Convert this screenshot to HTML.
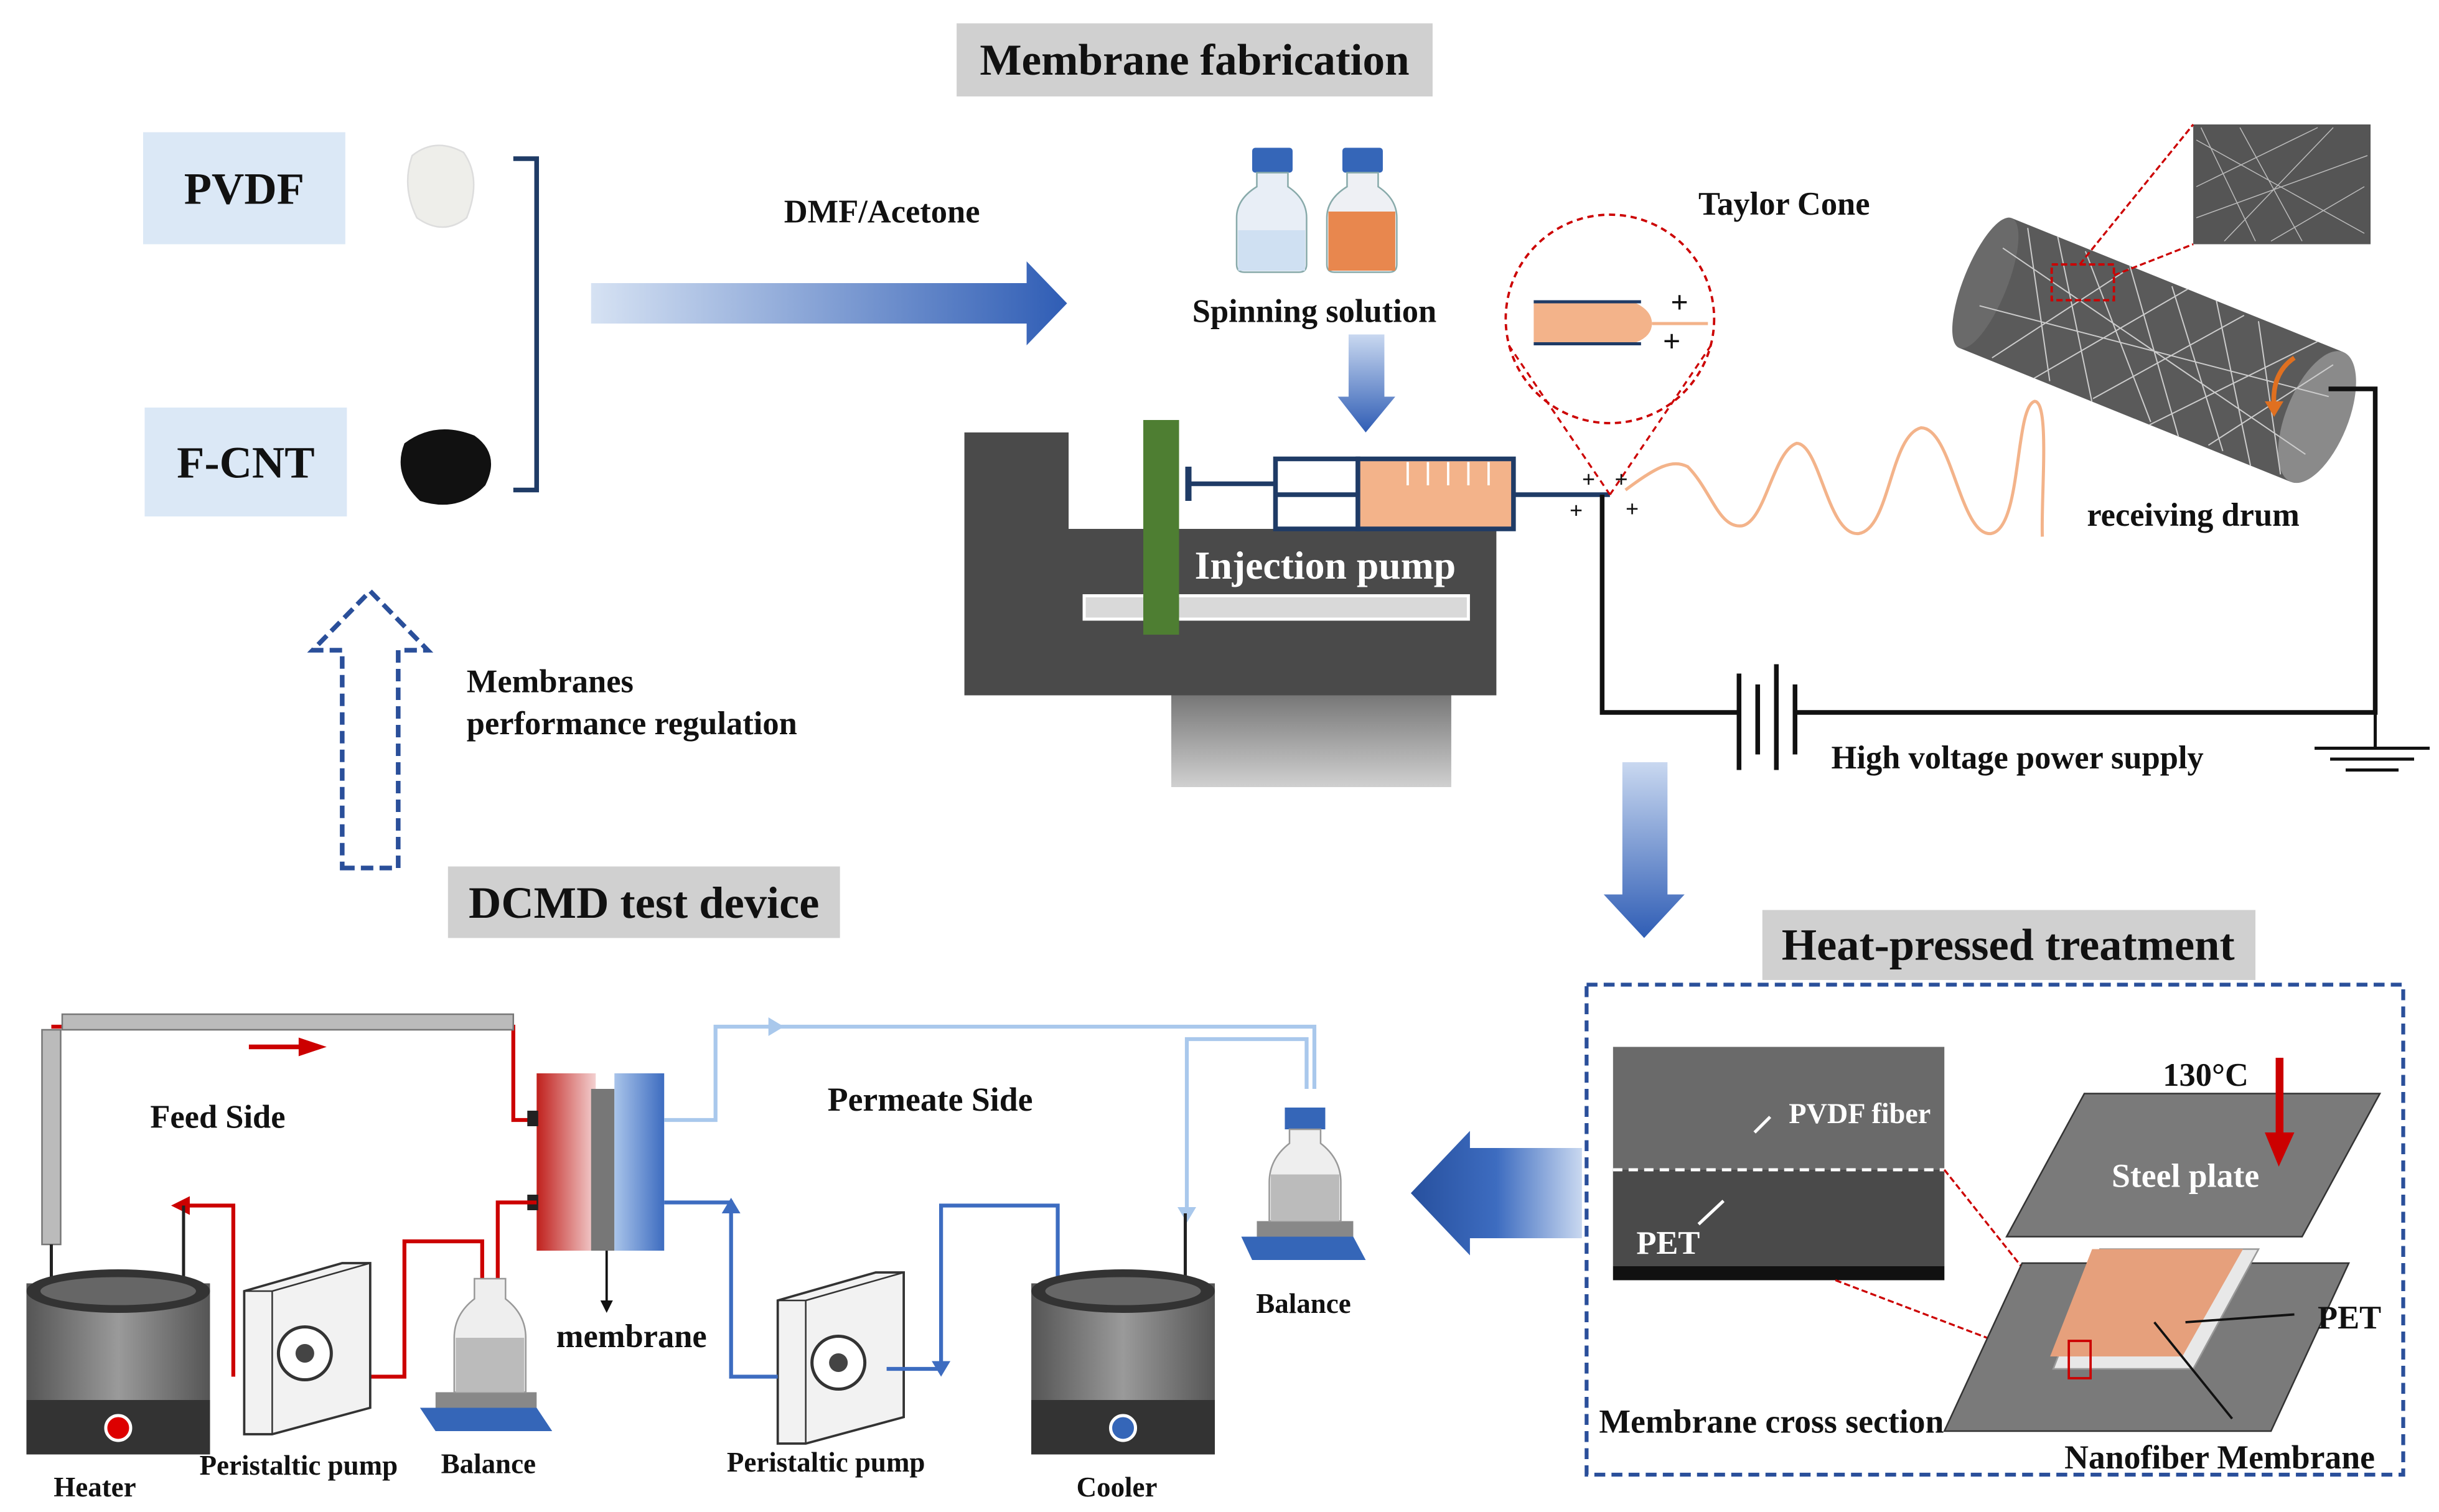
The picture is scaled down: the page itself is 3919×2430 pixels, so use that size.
<!DOCTYPE html>
<html><head><meta charset="utf-8"><style>
html,body{margin:0;padding:0;background:#fff;width:3919px;height:2430px;overflow:hidden}
svg{display:block}
text{font-family:"Liberation Serif",serif;font-weight:bold;fill:#111}
</style></head><body>
<svg width="3919" height="2430" viewBox="0 0 1568 972" preserveAspectRatio="none" xmlns="http://www.w3.org/2000/svg">
<defs>
<linearGradient id="ga" x1="0" x2="1"><stop offset="0" stop-color="#d6e2f3"/><stop offset="1" stop-color="#2f5db5"/></linearGradient>
<linearGradient id="gd" x1="0" x2="0" y1="0" y2="1"><stop offset="0" stop-color="#c9d8f0"/><stop offset="1" stop-color="#2f5db5"/></linearGradient>
<linearGradient id="gl" x1="1" x2="0"><stop offset="0" stop-color="#c9d8f0"/><stop offset="0.5" stop-color="#3d6cc0"/><stop offset="1" stop-color="#27509e"/></linearGradient>
<linearGradient id="gr" x1="0" x2="1"><stop offset="0" stop-color="#c0201c"/><stop offset="1" stop-color="#f3d0d0"/></linearGradient>
<linearGradient id="gb" x1="0" x2="1"><stop offset="0" stop-color="#a9c4ea"/><stop offset="1" stop-color="#3d6cc0"/></linearGradient>
<linearGradient id="gbase" x1="0" x2="0" y1="0" y2="1"><stop offset="0" stop-color="#777"/><stop offset="1" stop-color="#d0d0d0"/></linearGradient>
<linearGradient id="gpot" x1="0" x2="1"><stop offset="0" stop-color="#555"/><stop offset="0.5" stop-color="#9a9a9a"/><stop offset="1" stop-color="#555"/></linearGradient>
</defs>
<rect x="615" y="15" width="306" height="47" fill="#d0d0d0"/>
<text x="768" y="48" font-size="28.5" text-anchor="middle">Membrane fabrication</text>
<rect x="288" y="557" width="252" height="46" fill="#d0d0d0"/>
<text x="414" y="590" font-size="29" text-anchor="middle">DCMD test device</text>
<rect x="1133" y="585" width="317" height="45" fill="#d0d0d0"/>
<text x="1291" y="617" font-size="29" text-anchor="middle">Heat-pressed treatment</text>
<rect x="92" y="85" width="130" height="72" fill="#dbe8f6"/>
<text x="157" y="131" font-size="29" text-anchor="middle">PVDF</text>
<rect x="93" y="262" width="130" height="70" fill="#dbe8f6"/>
<text x="158" y="307" font-size="29" text-anchor="middle">F-CNT</text>
<path d="M265 100 Q280 88 298 98 Q310 115 300 140 Q285 152 268 140 Q258 120 265 100Z" fill="#eeeeea" stroke="#ddd"/>
<path d="M260 285 Q280 270 305 280 Q322 292 312 312 Q295 330 270 322 Q252 305 260 285Z" fill="#111"/>
<path d="M330 102 H345 V315 H330" fill="none" stroke="#1f3b66" stroke-width="3"/>
<polygon points="380,182 660,182 660,168 686,195 660,222 660,208 380,208" fill="url(#ga)"/>
<text x="567" y="143" font-size="21" text-anchor="middle">DMF/Acetone</text>
<rect x="805" y="95" width="26" height="16" fill="#3566b8" rx="2"/>
<path d="M808 111 H828 V120 Q840 128 840 140 V170 Q840 175 835 175 H800 Q795 175 795 170 V140 Q795 128 808 120Z" fill="#e8eef6" stroke="#8aa" />
<rect x="796" y="148" width="43" height="26" fill="#cfe0f2"/>
<rect x="863" y="95" width="26" height="16" fill="#3566b8" rx="2"/>
<path d="M866 111 H886 V120 Q898 128 898 140 V170 Q898 175 893 175 H858 Q853 175 853 170 V140 Q853 128 866 120Z" fill="#eef0f4" stroke="#8aa"/>
<rect x="854" y="136" width="43" height="38" fill="#e8874e"/>
<text x="845" y="207" font-size="21" text-anchor="middle">Spinning solution</text>
<polygon points="867,215 890,215 890,255 897,255 878,278 860,255 867,255" fill="url(#gd)"/>
<path d="M620 278 H687 V340 H962 V447 H620Z" fill="#4a4a4a"/>
<rect x="753" y="447" width="180" height="59" fill="url(#gbase)"/>
<rect x="697" y="383" width="247" height="15" fill="#d9d9d9" stroke="#fff" stroke-width="2"/>
<rect x="735" y="270" width="23" height="138" fill="#4e7e32"/>
<line x1="764" y1="300" x2="764" y2="322" stroke="#1f3b66" stroke-width="4"/>
<line x1="764" y1="311" x2="820" y2="311" stroke="#1f3b66" stroke-width="3"/>
<rect x="820" y="295" width="53" height="45" fill="#fff" stroke="#1f3b66" stroke-width="3"/>
<line x1="820" y1="318" x2="873" y2="318" stroke="#1f3b66" stroke-width="3"/>
<rect x="873" y="295" width="100" height="45" fill="#f3b38a" stroke="#1f3b66" stroke-width="3"/>
<g stroke="#fff" stroke-width="1.5"><line x1="905" y1="297" x2="905" y2="312"/><line x1="918" y1="297" x2="918" y2="312"/><line x1="931" y1="297" x2="931" y2="312"/><line x1="944" y1="297" x2="944" y2="312"/><line x1="957" y1="297" x2="957" y2="312"/></g>
<line x1="973" y1="318" x2="1035" y2="318" stroke="#1f3b66" stroke-width="3"/>
<text x="852" y="372" font-size="25.5" text-anchor="middle" style="fill:#fff">Injection pump</text>
<circle cx="1035" cy="205" r="67" fill="none" stroke="#c00" stroke-width="1.5" stroke-dasharray="4,3"/>
<line x1="970" y1="222" x2="1035" y2="318" stroke="#c00" stroke-width="1.3" stroke-dasharray="4,3"/>
<line x1="1100" y1="222" x2="1035" y2="318" stroke="#c00" stroke-width="1.3" stroke-dasharray="4,3"/>
<path d="M986 195 H1052 Q1062 200 1062 208 Q1062 216 1052 220 H986Z" fill="#f3b38a"/>
<line x1="986" y1="194" x2="1055" y2="194" stroke="#1f3b66" stroke-width="2"/>
<line x1="986" y1="221" x2="1055" y2="221" stroke="#1f3b66" stroke-width="2"/>
<line x1="1062" y1="208" x2="1098" y2="208" stroke="#f3b38a" stroke-width="2"/>
<text x="1074" y="201" font-size="20">+</text><text x="1069" y="226" font-size="20">+</text>
<text x="1147" y="138" font-size="21" text-anchor="middle">Taylor Cone</text>
<text x="1017" y="313" font-size="15">+</text><text x="1038" y="313" font-size="15">+</text>
<text x="1009" y="333" font-size="15">+</text><text x="1045" y="332" font-size="15">+</text>
<path d="M1045 315 C1065 300 1075 295 1085 300 C1100 315 1105 340 1120 338 C1135 335 1140 290 1155 285 C1170 285 1175 345 1195 343 C1215 340 1215 280 1235 275 C1255 275 1260 345 1280 343 C1300 340 1295 262 1308 258 C1318 258 1312 320 1313 345" fill="none" stroke="#f3b38a" stroke-width="2"/>
<g transform="rotate(22 1383 225)">
<rect x="1268" y="180" width="230" height="90" fill="#5a5a5a"/>
<ellipse cx="1268" cy="225" rx="14" ry="45" fill="#6a6a6a"/>
<ellipse cx="1498" cy="225" rx="20" ry="45" fill="#8a8a8a"/>
<g stroke="#ccc" stroke-width="0.8" fill="none">
<path d="M1280 182 L1330 268 M1300 180 L1360 270 M1320 182 L1400 268 M1350 180 L1420 270 M1380 182 L1450 268 M1410 180 L1470 270 M1440 182 L1490 268 M1290 268 L1350 182 M1320 270 L1390 180 M1360 268 L1430 182 M1400 270 L1480 180 M1440 268 L1495 190 M1270 200 L1500 250 M1270 240 L1500 210"/>
</g>
</g>
<path d="M1475 230 Q1460 240 1462 262" fill="none" stroke="#e07020" stroke-width="3"/>
<polygon points="1456,258 1468,258 1462,268" fill="#e07020"/>
<rect x="1410" y="80" width="114" height="77" fill="#555"/>
<g stroke="#bbb" stroke-width="0.6"><path d="M1412 90 L1520 150 M1412 120 L1490 82 M1430 155 L1500 82 M1412 140 L1522 100 M1450 155 L1415 82 M1480 155 L1440 82 M1520 120 L1460 155"/></g>
<rect x="1319" y="170" width="40" height="23" fill="none" stroke="#c00" stroke-width="1.5" stroke-dasharray="4,2"/>
<line x1="1359" y1="177" x2="1410" y2="157" stroke="#c00" stroke-width="1.3" stroke-dasharray="4,2"/>
<line x1="1337" y1="170" x2="1410" y2="80" stroke="#c00" stroke-width="1.3" stroke-dasharray="4,2"/>
<text x="1410" y="338" font-size="21" text-anchor="middle">receiving drum</text>
<path d="M1030 318 V458 H1118 M1155 458 H1527 V250 H1497" fill="none" stroke="#111" stroke-width="3"/>
<g stroke="#111" stroke-width="3"><line x1="1118" y1="433" x2="1118" y2="495"/><line x1="1130" y1="440" x2="1130" y2="485"/><line x1="1142" y1="427" x2="1142" y2="495"/><line x1="1154" y1="440" x2="1154" y2="485"/></g>
<line x1="1527" y1="458" x2="1527" y2="480" stroke="#111" stroke-width="2"/>
<g stroke="#111" stroke-width="2"><line x1="1488" y1="481" x2="1562" y2="481"/><line x1="1498" y1="488" x2="1552" y2="488"/><line x1="1508" y1="495" x2="1542" y2="495"/></g>
<text x="1297" y="494" font-size="21" text-anchor="middle">High voltage power supply</text>
<polygon points="1043,490 1072,490 1072,575 1083,575 1057,603 1031,575 1043,575" fill="url(#gd)"/>
<polygon points="220,558 256,558 256,418 275,418 238,380 201,418 220,418" fill="none" stroke="#2a4f9a" stroke-width="3" stroke-dasharray="8,4"/>
<text x="300" y="445" font-size="21">Membranes</text>
<text x="300" y="472" font-size="21">performance regulation</text>
<rect x="1020" y="633" width="525" height="315" fill="none" stroke="#2a4f9a" stroke-width="2.5" stroke-dasharray="7,4"/>
<rect x="1037" y="673" width="213" height="150" fill="#6a6a6a"/>
<rect x="1037" y="752" width="213" height="62" fill="#4a4a4a"/>
<rect x="1037" y="814" width="213" height="9" fill="#111"/>
<line x1="1037" y1="752" x2="1250" y2="752" stroke="#fff" stroke-width="2" stroke-dasharray="6,4"/>
<text x="1150" y="722" font-size="18.5" style="fill:#fff">PVDF fiber</text>
<line x1="1128" y1="728" x2="1138" y2="718" stroke="#fff" stroke-width="2"/>
<text x="1052" y="806" font-size="21" style="fill:#fff">PET</text>
<line x1="1092" y1="787" x2="1108" y2="772" stroke="#fff" stroke-width="2"/>
<line x1="1250" y1="752" x2="1340" y2="865" stroke="#c00" stroke-width="1.3" stroke-dasharray="4,2"/>
<line x1="1180" y1="823" x2="1330" y2="880" stroke="#c00" stroke-width="1.3" stroke-dasharray="4,2"/>
<polygon points="1340,703 1530,703 1480,795 1290,795" fill="#7a7a7a" stroke="#333"/>
<text x="1405" y="763" font-size="21.5" text-anchor="middle" style="fill:#fff">Steel plate</text>
<text x="1418" y="698" font-size="21" text-anchor="middle">130°C</text>
<rect x="1463" y="680" width="5" height="50" fill="#c00"/><polygon points="1456,728 1475,728 1465,750" fill="#c00"/>
<polygon points="1300,812 1510,812 1460,920 1250,920" fill="#7a7a7a" stroke="#333"/>
<polygon points="1350,803 1452,803 1410,880 1320,880" fill="#e8e8e8" stroke="#999"/>
<polygon points="1345,803 1442,803 1403,872 1318,872" fill="#e6a07c"/>
<rect x="1330" y="862" width="14" height="24" fill="none" stroke="#c00" stroke-width="1.5"/>
<line x1="1405" y1="850" x2="1475" y2="845" stroke="#111" stroke-width="1.5"/>
<text x="1490" y="854" font-size="21">PET</text>
<line x1="1385" y1="850" x2="1435" y2="912" stroke="#111" stroke-width="1.5"/>
<text x="1028" y="921" font-size="21.5">Membrane cross section</text>
<text x="1427" y="944" font-size="21.5" text-anchor="middle">Nanofiber Membrane</text>
<polygon points="1017,738 945,738 945,727 907,767 945,807 945,796 1017,796" fill="url(#gl)"/>
<path d="M33 660 H330 V720 H345" fill="none" stroke="#c00" stroke-width="2.5"/>
<rect x="40" y="652" width="290" height="10" fill="#bbb" stroke="#777"/>
<rect x="27" y="662" width="12" height="138" fill="#bbb" stroke="#777"/>
<line x1="33" y1="800" x2="33" y2="830" stroke="#222" stroke-width="2"/>
<line x1="160" y1="673" x2="195" y2="673" stroke="#c00" stroke-width="3"/><polygon points="192,667 210,673 192,679" fill="#c00"/>
<text x="140" y="725" font-size="21" text-anchor="middle">Feed Side</text>
<rect x="345" y="690" width="38" height="114" fill="url(#gr)"/>
<rect x="380" y="700" width="15" height="104" fill="#777"/>
<rect x="395" y="690" width="32" height="114" fill="url(#gb)"/>
<rect x="339" y="714" width="7" height="10" fill="#222"/><rect x="339" y="768" width="7" height="10" fill="#222"/>
<line x1="390" y1="804" x2="390" y2="840" stroke="#111" stroke-width="1.5"/><polygon points="386,836 394,836 390,844" fill="#111"/>
<text x="406" y="866" font-size="21" text-anchor="middle">membrane</text>
<path d="M345 773 H320 V835" fill="none" stroke="#c00" stroke-width="2.5"/>
<path d="M310 835 V798 H260 V885 H222" fill="none" stroke="#c00" stroke-width="2.5"/><polygon points="226,879 216,885 226,891" fill="#c00"/>
<path d="M150 885 V775 H118" fill="none" stroke="#c00" stroke-width="2.5"/><polygon points="122,769 110,775 122,781" fill="#c00"/>
<line x1="118" y1="775" x2="118" y2="830" stroke="#222" stroke-width="2"/>
<rect x="17" y="825" width="118" height="110" fill="url(#gpot)"/>
<ellipse cx="76" cy="830" rx="59" ry="14" fill="#333"/><ellipse cx="76" cy="830" rx="50" ry="9" fill="#666"/>
<rect x="17" y="900" width="118" height="35" fill="#333"/>
<circle cx="76" cy="918" r="8" fill="#d00" stroke="#fff" stroke-width="2"/>
<text x="61" y="962" font-size="18" text-anchor="middle">Heater</text>
<g id="pp"><polygon points="157,830 220,812 238,812 238,905 175,922 157,922" fill="#f2f2f2" stroke="#333" stroke-width="1.5"/>
<line x1="157" y1="830" x2="175" y2="830" stroke="#333"/><line x1="175" y1="830" x2="175" y2="922" stroke="#333"/><line x1="175" y1="830" x2="238" y2="812" stroke="#333"/>
<circle cx="196" cy="870" r="17" fill="#fff" stroke="#333" stroke-width="2"/><circle cx="196" cy="870" r="6" fill="#444"/></g>
<text x="192" y="948" font-size="18" text-anchor="middle">Peristaltic pump</text>
<use href="#pp" transform="translate(343,6)"/>
<text x="531" y="946" font-size="18" text-anchor="middle">Peristaltic pump</text>
<polygon points="270,905 345,905 355,920 280,920" fill="#3566b8"/><rect x="280" y="895" width="65" height="10" fill="#888"/>
<path d="M305 822 H325 V835 Q338 845 338 860 V895 H292 V860 Q292 845 305 835Z" fill="#eee" stroke="#999"/>
<rect x="293" y="860" width="44" height="35" fill="#bbb"/>
<text x="314" y="947" font-size="18" text-anchor="middle">Balance</text>
<path d="M427 720 H460 V660 H845 V700" fill="none" stroke="#a9c8ec" stroke-width="2.5"/>
<polygon points="494,654 504,660 494,666" fill="#a9c8ec"/>
<path d="M840 700 V668 H763 V780" fill="none" stroke="#a9c8ec" stroke-width="2.5"/>
<polygon points="757,776 769,776 763,786" fill="#a9c8ec"/>
<path d="M427 773 H470 V885 H500" fill="none" stroke="#3d6cc0" stroke-width="2.5"/>
<polygon points="464,780 476,780 470,770" fill="#3d6cc0"/>
<path d="M570 880 H605 V775 H680 V830" fill="none" stroke="#3d6cc0" stroke-width="2.5"/>
<polygon points="599,875 611,875 605,885" fill="#3d6cc0"/>
<line x1="762" y1="780" x2="762" y2="830" stroke="#222" stroke-width="2"/>
<text x="598" y="714" font-size="21.5" text-anchor="middle">Permeate Side</text>
<rect x="663" y="825" width="118" height="110" fill="url(#gpot)"/>
<ellipse cx="722" cy="830" rx="59" ry="14" fill="#333"/><ellipse cx="722" cy="830" rx="50" ry="9" fill="#666"/>
<rect x="663" y="900" width="118" height="35" fill="#333"/>
<circle cx="722" cy="918" r="8" fill="#3566b8" stroke="#fff" stroke-width="2"/>
<text x="718" y="962" font-size="18" text-anchor="middle">Cooler</text>
<polygon points="798,795 870,795 878,810 805,810" fill="#3566b8"/><rect x="808" y="785" width="62" height="10" fill="#888"/>
<rect x="826" y="712" width="26" height="14" fill="#3566b8"/>
<path d="M829 726 H849 V735 Q862 745 862 760 V785 H816 V760 Q816 745 829 735Z" fill="#eee" stroke="#999"/>
<rect x="817" y="755" width="44" height="30" fill="#bbb"/>
<text x="838" y="844" font-size="18" text-anchor="middle">Balance</text>
</svg>
</body></html>
